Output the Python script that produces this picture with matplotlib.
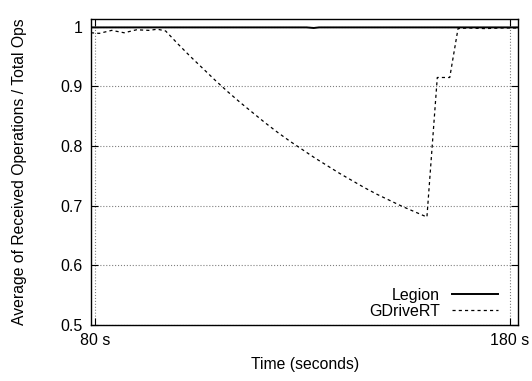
import matplotlib.pyplot as plt
import numpy as np

plt.rcParams['font.family'] = ['Liberation Sans', 'DejaVu Sans']

# GDriveRT: received ops ratio over time
gdrive_t = [79, 81, 84, 87, 90, 93, 95, 97, 100, 103, 106, 109, 112, 115, 118,
            121, 124, 127, 130, 133, 136, 139, 142, 145, 148, 151, 154, 157,
            160, 162.5, 165.5, 167.5, 170, 174, 178, 182]
gdrive_v = [0.990, 0.989, 0.994, 0.990, 0.995, 0.994, 0.996, 0.993, 0.971,
            0.950, 0.930, 0.910, 0.891, 0.873, 0.856, 0.839, 0.823, 0.808,
            0.794, 0.780, 0.767, 0.754, 0.742, 0.730, 0.719, 0.709, 0.699,
            0.690, 0.681, 0.915, 0.915, 0.997, 0.998, 0.997, 0.998, 0.998]

# Legion: stays near 1
legion_t = [79, 100, 131, 132.7, 134, 160, 182]
legion_v = [0.999, 0.999, 0.999, 0.998, 0.999, 0.999, 0.999]

xticks = [80, 180]
xtick_labels = ['80 s', '180 s']
yticks = [0.5, 0.6, 0.7, 0.8, 0.9, 1.0]

fig = plt.figure(figsize=(5.32, 3.81), dpi=100)
ax = fig.add_axes([0.171, 0.147, 0.803, 0.803])

ax.plot(legion_t, legion_v, color='black', lw=1.4, label='Legion')
ax.plot(gdrive_t, gdrive_v, color='black', lw=0.9, dashes=(2.5, 2.5), label='GDriveRT')

ax.set_xlim(79, 182)
ax.set_ylim(0.5, 1.013)
ax.set_xticks(xticks)
ax.set_xticklabels(xtick_labels)
ax.set_yticks(yticks)
ax.set_yticklabels(['%g' % v for v in yticks])
ax.tick_params(direction='in', top=True, right=True, labelsize=11.5, length=5, width=0.8, pad=6)
ax.grid(True, color='gray', linestyle=':', linewidth=0.8)
for s in ax.spines.values():
    s.set_linewidth(1.0)

ax.set_xlabel('Time (seconds)', fontsize=11.3, labelpad=6)
ax.set_ylabel('Average of Received Operations / Total Ops', fontsize=11.3, labelpad=24)

ax.legend(loc='lower right', frameon=False, markerfirst=False, fontsize=11.5,
          handlelength=2.9, handletextpad=0.75, labelspacing=0.05,
          borderaxespad=0.0, bbox_to_anchor=(0.968, 0.0))

fig.savefig('out.png', dpi=100)
